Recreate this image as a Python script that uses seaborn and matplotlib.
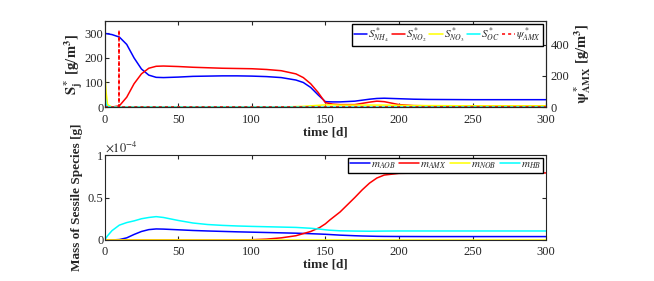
import matplotlib
matplotlib.use("Agg")
import matplotlib.pyplot as plt
import matplotlib.ticker as mticker
import numpy as np
import pandas as pd
import seaborn as sns


# top panel: bulk concentrations [g/m^3]
t_top = [0, 1, 2, 5, 10, 15, 20, 25, 30, 35, 40, 50, 60, 70, 80, 90, 100, 110, 120, 130,
         135, 140, 145, 150, 155, 160, 170, 180, 185, 190, 200, 210, 220, 250, 300]
s_nh4 = [300, 299, 298, 295, 285, 255, 200, 155, 130, 121, 120, 122, 125, 126, 127, 127, 126, 124, 120, 110,
         100, 80, 50, 22, 21, 21, 24, 32, 35, 36, 34, 32, 31, 30, 30]
s_no2 = [0, 0, 0, 0, 5, 40, 95, 135, 158, 166, 167, 165, 162, 160, 158, 157, 156, 153, 148, 135,
         120, 95, 60, 18, 12, 10, 10, 20, 24, 22, 10, 6, 5, 5, 5]
s_no3 = [158, 60, 10, 0, 0, 0, 0, 0, 0, 0, 0, 0, 0, 0, 0, 0, 0, 0, 0, 2,
         3, 5, 7, 9, 9, 8, 8, 8, 8, 8, 7, 6, 6, 5, 5]
s_oc = [57, 10, 2, 0, 0, 0, 0, 0, 0, 0, 0, 0, 0, 0, 0, 0, 0, 0, 0, 0,
        0, 0, 0, 0, 0, 0, 0, 0, 0, 0, 0, 0, 0, 0, 0]

# psi_AMX (right axis): inoculation pulse at t = 10 d
t_psi = [0, 10, 10, 10, 300]
psi_amx = [0, 0, 495, 0, 0]

# bottom panel: mass of sessile species [g], in units of 1e-5
t_bot = [0, 2, 5, 10, 15, 20, 25, 30, 35, 40, 50, 60, 70, 80, 90, 100, 110, 120, 130, 140,
         146, 150, 153, 160, 170, 175, 180, 185, 190, 200, 220, 250, 300]
m_aob = [0, 0, 0, 0.05, 0.25, 0.65, 1.0, 1.22, 1.3, 1.28, 1.2, 1.12, 1.06, 1.01, 0.96, 0.92, 0.88, 0.84, 0.8, 0.74,
         0.7, 0.67, 0.64, 0.57, 0.5, 0.47, 0.45, 0.43, 0.42, 0.41, 0.4, 0.4, 0.4]
m_amx = [0, 0, 0, 0, 0, 0, 0, 0, 0, 0, 0, 0, 0, 0, 0.01, 0.03, 0.1, 0.25, 0.5, 1.0,
         1.45, 1.9, 2.35, 3.3, 5.0, 5.9, 6.7, 7.3, 7.65, 7.85, 7.9, 7.9, 7.9]
m_nob = [0] * len(t_bot)
m_hb = [0, 0.5, 1.1, 1.75, 2.05, 2.25, 2.5, 2.65, 2.75, 2.65, 2.3, 2.0, 1.82, 1.72, 1.65, 1.6, 1.56, 1.52, 1.48, 1.38,
        1.28, 1.2, 1.15, 1.08, 1.05, 1.04, 1.03, 1.04, 1.05, 1.06, 1.06, 1.06, 1.06]


sns.set_style("ticks")
plt.rcParams["font.family"] = ["Liberation Serif", "DejaVu Serif"]
plt.rcParams["mathtext.fontset"] = "stix"
plt.rcParams["xtick.direction"] = "in"
plt.rcParams["ytick.direction"] = "in"
plt.rcParams["xtick.top"] = True
plt.rcParams["font.size"] = 9

fig = plt.figure(figsize=(6.54, 2.81), dpi=100)
ax1 = fig.add_axes([0.16, 0.619, 0.675, 0.306])
ax2 = fig.add_axes([0.16, 0.146, 0.675, 0.302])

# top panel
top = pd.DataFrame({"t": t_top, "nh4": s_nh4, "no2": s_no2, "no3": s_no3, "oc": s_oc})
for col, c, lab in [("nh4", "blue", r"$S^*_{NH_4}$"), ("no2", "red", r"$S^*_{NO_2}$"),
                    ("no3", "yellow", r"$S^*_{NO_3}$"), ("oc", "cyan", r"$S^*_{OC}$")]:
    sns.lineplot(data=top, x="t", y=col, color=c, lw=1.1, ax=ax1, label=lab, legend=False)

ax1r = ax1.twinx()
psi = pd.DataFrame({"t": t_psi, "psi": psi_amx})
sns.lineplot(data=psi, x="t", y="psi", color="red", lw=1.1, ls=(0, (2, 2)), ax=ax1r,
             estimator=None, sort=False, legend=False)

ax1.set_xlim(0, 300)
ax1.set_ylim(0, 350)
ax1.set_yticks([0, 100, 200, 300])
ax1.set_xticks(range(0, 301, 50))
ax1r.set_ylim(0, 550)
ax1r.set_yticks([0, 200, 400])
ax1.set_xlabel("time [d]", fontweight="bold", fontsize=9.5, labelpad=0)
ax1.set_ylabel(r"$\mathbf{S^*_j}$ [g/m$^\mathbf{3}$]", fontweight="bold", fontsize=10.5, labelpad=0)
ax1r.set_ylabel(r"$\mathbf{\psi^*_{AMX}}$ [g/m$^\mathbf{3}$]", fontweight="bold", fontsize=10.5, labelpad=2)
ax1.tick_params(axis="x", length=3, pad=5)
ax1.tick_params(axis="y", length=3, pad=1)
ax1r.tick_params(length=3, pad=3)

handles, labels = ax1.get_legend_handles_labels()
handles += ax1r.get_lines()[:1]
labels += [r"$\psi^*_{AMX}$"]
ax1r.legend(handles, labels, ncol=5, loc="upper right", bbox_to_anchor=(0.995, 0.98),
            fontsize=8, handlelength=1.2, handletextpad=0.1, columnspacing=0.2,
            borderpad=0.15, borderaxespad=0.1, fancybox=False, edgecolor="black", framealpha=1)

# bottom panel
bot = pd.DataFrame({"t": t_bot, "aob": np.array(m_aob) * 1e-5, "amx": np.array(m_amx) * 1e-5,
                    "nob": np.array(m_nob) * 1e-5, "hb": np.array(m_hb) * 1e-5})
for col, c, lab in [("aob", "blue", r"$m_{AOB}$"), ("amx", "red", r"$m_{AMX}$"),
                    ("nob", "yellow", r"$m_{NOB}$"), ("hb", "cyan", r"$m_{HB}$")]:
    sns.lineplot(data=bot, x="t", y=col, color=c, lw=1.1, ax=ax2, label=lab, legend=False)

ax2.set_xlim(0, 300)
ax2.set_ylim(0, 1e-4)
ax2.set_yticks([0, 0.5e-4, 1e-4])
ax2.yaxis.set_major_formatter(mticker.FuncFormatter(lambda v, p: "%g" % round(v / 1e-4, 3)))
ax2.text(0.0, 1.01, r"$\times10^{-4}$", transform=ax2.transAxes, ha="left", va="bottom", fontsize=9)
ax2.set_xticks(range(0, 301, 50))
ax2.tick_params(right=True, length=3)
ax2.tick_params(axis="x", pad=4)
ax2.tick_params(axis="y", pad=1)
ax2.set_xlabel("time [d]", fontweight="bold", fontsize=9.5, labelpad=1)
ax2.set_ylabel("Mass of Sessile Species [g]", fontweight="bold", fontsize=9.5, labelpad=3)
ax2.legend(ncol=4, loc="upper right", bbox_to_anchor=(0.995, 0.98),
           fontsize=8, handlelength=1.8, handletextpad=0.1, columnspacing=0.3,
           borderpad=0.15, borderaxespad=0.1, fancybox=False, edgecolor="black", framealpha=1)

for ax in (ax1, ax2, ax1r):
    for s in ax.spines.values():
        s.set_visible(True)
        s.set_linewidth(0.8)

fig.savefig("out.png", dpi=100)
